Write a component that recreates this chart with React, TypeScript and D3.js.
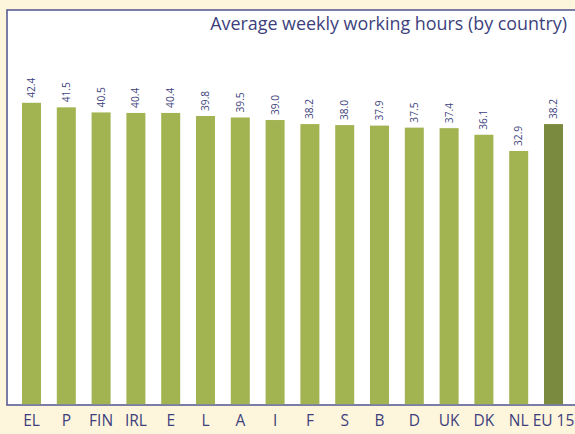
import React from "react";
import * as d3 from "d3";

const categories = ["EL", "P", "FIN", "IRL", "E", "L", "A", "I", "F", "S", "B", "D", "UK", "DK", "NL", "EU 15"];
const hours = [42.4, 41.5, 40.5, 40.4, 40.4, 39.8, 39.5, 39.0, 38.2, 38.0, 37.9, 37.5, 37.4, 36.1, 32.9, 38.2];
const labels = ["42.4", "41.5", "40.5", "40.4", "40.4", "39.8", "39.5", "39.0", "38.2", "38.0", "37.9", "37.5", "37.4", "36.1", "32.9", "38.2"];
const title = "Average weekly working hours (by country)";

const W = 575;
const H = 434;
const BG = "#fdf6dc";
const NAVY = "#3d3f7c";
const BORDER = "#5b5d95";
const GREEN = "#a2b351";
const DARK_GREEN = "#7a8a3e";

export default function App() {
  const box = { left: 7, top: 10, right: 580, bottom: 405 };
  const x = d3
    .scaleBand<string>()
    .domain(categories)
    .range([14.1, 14.1 + 34.8 * categories.length])
    .paddingInner(0.454)
    .paddingOuter(0.227);
  const y = d3.scaleLinear().domain([-17.2, 60.7]).range([box.bottom, box.top]);
  const font = "'Open Sans', 'Noto Sans', sans-serif";

  return (
    <div style={{ position: "absolute", left: 0, top: 0 }}>
      <svg width={W} height={H} style={{ display: "block" }}>
        <rect x={0} y={0} width={W} height={H} fill={BG} />
        <rect
          x={box.left}
          y={box.top}
          width={box.right - box.left}
          height={box.bottom - box.top}
          fill="#ffffff"
          stroke={BORDER}
          strokeWidth={1.6}
        />
        <text x={567} y={30} textAnchor="end" fontFamily={font} fontSize={17.9} fill={NAVY}>
          {title}
        </text>
        {categories.map((c, i) => {
          const bx = x(c)!;
          const bw = x.bandwidth();
          const top = y(hours[i]);
          const cx = bx + bw / 2;
          return (
            <g key={c}>
              <rect
                x={bx}
                y={top}
                width={bw}
                height={box.bottom - 0.8 - top}
                fill={i === categories.length - 1 ? DARK_GREEN : GREEN}
              />
              <text
                transform={`translate(${cx},${top - 5}) rotate(-90)`}
                dy="0.35em"
                textAnchor="start"
                fontFamily={font}
                fontSize={10.2}
                fill={NAVY}
              >
                {labels[i]}
              </text>
              <text x={cx} y={426} textAnchor="middle" fontFamily={font} fontSize={15.5} fill={NAVY}>
                {c}
              </text>
            </g>
          );
        })}
      </svg>
    </div>
  );
}
